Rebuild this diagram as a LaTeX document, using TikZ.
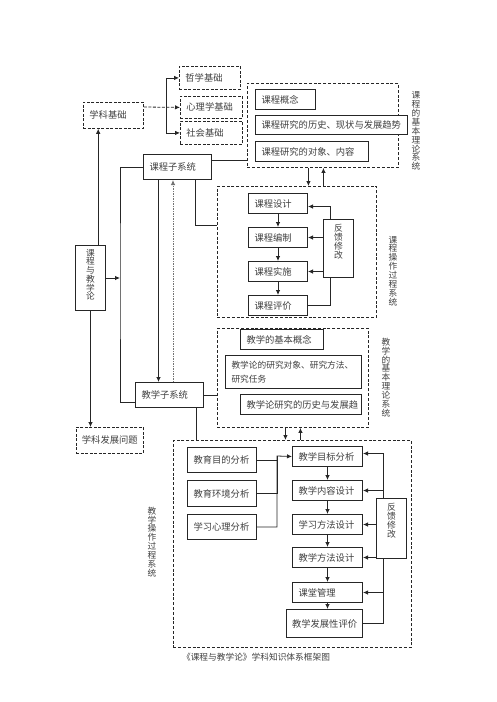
\documentclass[tikz,border=0pt]{standalone}
\usepackage{fontspec}
\setmainfont{Noto Sans CJK SC}
\usetikzlibrary{arrows.meta, positioning, backgrounds}

\begin{document}
\begin{tikzpicture}[
    x=1pt, y=-1pt,
    font=\fontsize{9.3}{11}\selectfont,
    box/.style={rectangle, draw=black!85, line width=1pt, fill=white, text=black!75, align=left, inner xsep=6pt, inner ysep=1pt, minimum height=20pt, anchor=north west},
    dbox/.style={box, dash pattern=on 3pt off 1.5pt, line width=0.8pt},
    group/.style={rectangle, draw=black!85, dash pattern=on 3pt off 1.8pt, line width=0.9pt, inner sep=0pt, anchor=north west},
    fkbox/.style={box, align=center, inner xsep=0pt, text width=30pt, text height=8pt, font=\fontsize{8.8}{9.2}\selectfont},
    vlabel/.style={align=center, text=black!75, inner sep=0pt, font=\fontsize{8.7}{8.9}\selectfont},
    arrow/.style={-{Latex[length=5pt, width=4.5pt]}, line width=0.8pt, draw=black!85},
    line/.style={line width=0.8pt, draw=black!85}
]
\useasboundingbox (0,0) rectangle (496,702);

% Foundation Nodes
\node[dbox, text width=48pt, minimum height=26pt] (xkjc) at (83,102) {学科基础};
\node[dbox, text width=49pt, minimum height=23pt] (zxjc) at (179,66) {哲学基础};
\node[dbox, text width=50pt, minimum height=22pt] (xljc) at (180,96) {心理学基础};
\node[dbox, text width=50pt, minimum height=23pt] (shjc) at (180,121) {社会基础};
\coordinate (fz) at (166,107);

% Main Nodes
\node[box, text width=30pt, inner xsep=0pt, align=center, minimum height=65pt, text height=8pt, text depth=51.6pt, font=\fontsize{8.7}{8.7}\selectfont] (kcjx) at (75,245) {课\\程\\与\\教\\学\\论};
\node[box, text width=56pt, minimum height=25pt] (kczxt) at (143,154) {课程子系统};
\node[box, text width=56pt, minimum height=25pt] (jxzxt) at (135,382) {教学子系统};
\node[dbox, text width=56pt, inner xsep=5.5pt, minimum height=26pt] (xkfz) at (76,427) {学科发展问题};
\coordinate (zhu) at (120,277.5);

% Curriculum Theory Nodes
\node[box, text width=48pt] (kcgn) at (255,89) {课程概念};
\node[box, text width=140pt, minimum height=19pt] (kcls) at (255,115) {课程研究的历史、现状与发展趋势};
\node[box, text width=101pt] (kcdx) at (255,141) {课程研究的对象、内容};
\node[vlabel] (kcllbq) at (416,131) {课\\程\\的\\基\\本\\理\\论\\系\\统};

% Curriculum Operation Nodes
\node[box, text width=47pt] (kcsj) at (248,193) {课程设计};
\node[box, text width=47pt, below=13pt of kcsj] (kcbz) {课程编制};
\node[box, text width=47pt, below=13pt of kcbz] (kcss) {课程实施};
\node[box, text width=47pt, below=13pt of kcss] (kcpj) {课程评价};
\node[fkbox, minimum height=58pt, text depth=42.6pt] (fk1) at (323,219) {反\\馈\\修\\改};
\node[vlabel] (kcczbq) at (393,271) {课\\程\\操\\作\\过\\程\\系\\统};

% Teaching Theory Nodes
\node[box, text width=71pt] (jxgn) at (240,329) {教学的基本概念};
\node[box, text width=124pt, minimum height=33pt, font=\fontsize{8.7}{13.5}\selectfont] (jxdx) at (225,355) {教学论的研究对象、研究方法、\\研究任务};
\node[box, text width=109pt] (jxls) at (240,394) {教学论研究的历史与发展趋};
\node[vlabel] (jxllbq) at (386,377.5) {教\\学\\的\\基\\本\\理\\论\\系\\统};

% Teaching Operation Nodes
\node[box, text width=57pt, minimum height=25pt] (jymd) at (187,447) {教育目的分析};
\node[box, text width=57pt, minimum height=26pt, below=7pt of jymd] (jyhj) {教育环境分析};
\node[box, text width=57pt, minimum height=25pt, below=7pt of jyhj] (xxxl) {学习心理分析};
\node[box, text width=58pt] (jxmb) at (292,446) {教学目标分析};
\node[box, text width=58pt, below=13pt of jxmb] (jxnr) {教学内容设计};
\node[box, text width=58pt, below=13pt of jxnr] (xxff) {学习方法设计};
\node[box, text width=58pt, below=12pt of xxff] (jxff) {教学方法设计};
\node[box, text width=58pt, below=14pt of jxff] (ktgl) {课堂管理};
\node[box, text width=65pt, inner xsep=5.5pt, minimum height=28pt] (jxpj) at (286,609) {教学发展性评价};
\node[fkbox, minimum height=60pt, text depth=44.6pt] (fk2) at (376,498) {反\\馈\\修\\改};
\node[vlabel] (jxczbq) at (152,542) {教\\学\\操\\作\\过\\程\\系\\统};
\coordinate (hz) at (277,456);

% Dashed Backgrounds
\begin{scope}[on background layer]
    \node[group, minimum width=151pt, minimum height=84pt] (kcll) at (247,83) {};
    \node[group, minimum width=159pt, minimum height=131pt] (kccz) at (217,186) {};
    \node[group, minimum width=151pt, minimum height=99pt] (jxll) at (217,328) {};
    \node[group, minimum width=238pt, minimum height=207pt] (jxcz) at (173,440) {};
\end{scope}

\node[text=black!75, font=\fontsize{8.7}{10}\selectfont] (btbq) at (256,657) {《课程与教学论》学科知识体系框架图};

% Connecting arrows
\draw[arrow, dash pattern=on 3pt off 1.5pt] (xkjc.east |- fz) -- (xljc.west);
\draw[arrow] (fz) |- (zxjc.west);
\draw[arrow] (fz) |- (shjc.west);

\draw[arrow] ([xshift=7.7pt]kcjx.north) -- ([xshift=7.7pt]kcjx.north |- xkjc.south);
\draw[arrow] (kcjx.south) -- (kcjx.south |- xkfz.north);
\draw[arrow] (kcjx.east) -- (kcjx.east -| zhu);
\draw[line] (kczxt.west) -| (zhu) |- ([yshift=-7.5pt]jxzxt.west);

\draw[line] ([yshift=6.5pt]kczxt.east) -- ([yshift=6.5pt]kczxt.east -| kcll.west);
\draw[line] ([xshift=18pt]kczxt.south) |- ([yshift=26.5pt]kccz.west);
\draw[arrow] ([xshift=-19pt]kczxt.south) -- ([xshift=-19pt]kczxt.south |- jxzxt.north);
\draw[arrow, draw=black!55, dash pattern=on 1.5pt off 1pt] ([xshift=3.5pt]jxzxt.north) -- ([xshift=3.5pt]jxzxt.north |- kczxt.south);
\draw[arrow] ([xshift=-14.5pt]kcll.south) -- ([xshift=-14.5pt]kcll.south |- kccz.north);
\draw[arrow] ([xshift=0.5pt]kcll.south |- kccz.north) -- ([xshift=0.5pt]kcll.south);

\foreach \a/\b in {kcsj/kcbz, kcbz/kcss, kcss/kcpj}
    \draw[arrow] (\a) -- (\b);
\draw[arrow] ([xshift=-8pt]fk1.north) |- ([yshift=-3pt]kcsj.east);
\draw[arrow] (fk1.west |- kcbz.east) -- (kcbz.east);
\draw[arrow] (fk1.west |- kcss.east) -- (kcss.east);
\draw[line] (kcpj.east) -| ([xshift=-8pt]fk1.south);

\draw[line] (jxzxt.east) -- (jxzxt.east -| jxll.west);
\draw[line] ([xshift=27pt]jxzxt.south) -- ([xshift=27pt]jxzxt.south |- jxcz.north);
\draw[arrow] ([xshift=-7.5pt]jxll.south) -- ([xshift=-7.5pt]jxll.south |- jxcz.north);
\draw[arrow] ([xshift=7.5pt]jxll.south |- jxcz.north) -- ([xshift=7.5pt]jxll.south);

\draw[line] (jymd.east) -- (jymd.east -| hz);
\draw[line] (jyhj.east) -| (hz);
\draw[arrow] (xxxl.east) -| (hz) -- (jxmb.west);
\foreach \a/\b in {jxmb/jxnr, jxnr/xxff, xxff/jxff, jxff/ktgl, ktgl/jxpj}
    \draw[arrow] (\a) -- (\a |- \b.north);
\draw[arrow] ([xshift=-8pt]fk2.north) |- ([yshift=3pt]jxmb.east);
\draw[arrow] ([xshift=-8pt]fk2.north |- jxnr.east) -- (jxnr.east);
\draw[arrow] (fk2.west |- xxff.east) -- (xxff.east);
\draw[arrow] (fk2.west |- jxff.east) -- (jxff.east);
\draw[arrow] ([xshift=-8pt]fk2.south |- ktgl.east) -- (ktgl.east);
\draw[line] (jxpj.east) -| ([xshift=-8pt]fk2.south);

\end{tikzpicture}
\end{document}
